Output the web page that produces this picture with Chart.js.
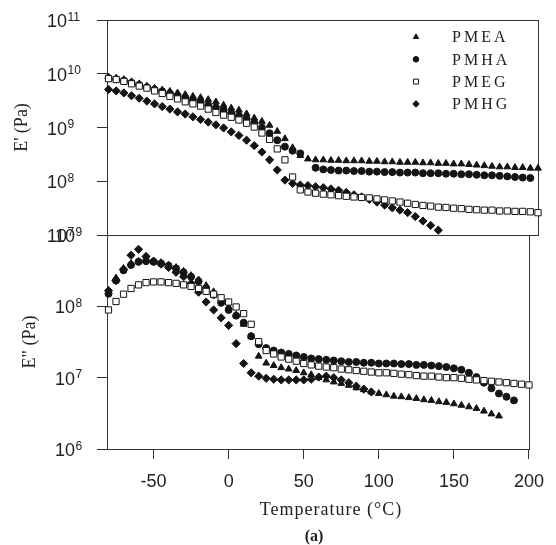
<!DOCTYPE html>
<html>
<head>
<meta charset="utf-8">
<script src="https://cdn.jsdelivr.net/npm/chart.js@4/dist/chart.umd.min.js"></script>
<style>
    html, body { margin: 0; padding: 0; background: #fff; }
    #wrap { position: relative; width: 556px; height: 545px; }
    #wrap canvas { position: absolute; left: 0; top: 0; }
</style>
</head>
<body>
<div id="wrap">
    <canvas id="lower-chart" width="556" height="545"></canvas>
    <canvas id="upper-chart" width="556" height="545"></canvas>
</div>
<script>
// Temperature (°C) of each reading
const temps = [-80, -75, -70, -65, -60, -55, -50, -45, -40, -35,
               -30, -25, -20, -15, -10, -5, 0, 5, 10, 15,
               20, 25, 30, 35, 40, 45, 50, 55, 60, 65,
               70, 75, 80, 85, 90, 95, 100, 105, 110, 115,
               120, 125, 130, 135, 140, 145, 150, 155, 160, 165,
               170, 175, 180, 185, 190, 195, 200];

// Storage modulus E' (Pa)
const pmeaStorage = [8.7e9, 8.3e9, 7.8e9, 7.1e9, 6.5e9, 5.9e9, 5.4e9, 5.0e9, 4.7e9, 4.4e9,
                     4.1e9, 3.8e9, 3.6e9, 3.3e9, 3.0e9, 2.6e9, 2.3e9, 2.1e9, 1.8e9, 1.5e9,
                     1.3e9, 1.1e9, 8.5e8, 6.2e8, 4.2e8, 3.0e8, 2.6e8, 2.5e8, 2.5e8, 2.45e8,
                     2.45e8, 2.4e8, 2.4e8, 2.4e8, 2.35e8, 2.35e8, 2.3e8, 2.3e8, 2.25e8, 2.25e8,
                     2.25e8, 2.2e8, 2.2e8, 2.15e8, 2.15e8, 2.1e8, 2.1e8, 2.05e8, 2.0e8, 1.95e8,
                     1.9e8, 1.85e8, 1.85e8, 1.8e8, 1.8e8, 1.75e8, 1.75e8];
const pmhaStorage = [8.3e9, 7.9e9, 7.4e9, 6.8e9, 6.2e9, 5.6e9, 5.1e9, 4.7e9, 4.3e9, 3.9e9,
                     3.55e9, 3.2e9, 2.95e9, 2.6e9, 2.35e9, 2.1e9, 1.85e9, 1.65e9, 1.45e9, 1.23e9,
                     1.0e9, 7.8e8, 5.8e8, 4.4e8, 3.7e8, 3.3e8, null, 1.78e8, 1.66e8, 1.62e8,
                     1.58e8, 1.58e8, 1.55e8, 1.55e8, 1.51e8, 1.51e8, 1.48e8, 1.48e8, 1.45e8, 1.45e8,
                     1.45e8, 1.41e8, 1.41e8, 1.41e8, 1.38e8, 1.38e8, 1.35e8, 1.35e8, 1.32e8, 1.29e8,
                     1.29e8, 1.26e8, 1.23e8, 1.2e8, 1.17e8, 1.15e8, null];
const pmegStorage = [8.1e9, 7.8e9, 7.2e9, 6.5e9, 5.9e9, 5.4e9, 4.8e9, 4.3e9, 3.8e9, 3.4e9,
                     3.0e9, 2.75e9, 2.5e9, 2.2e9, 1.9e9, 1.7e9, 1.55e9, 1.38e9, 1.2e9, 1.02e9,
                     7.9e8, 6.0e8, 4.0e8, 2.5e8, 1.2e8, 6.9e7, 6.3e7, 6.0e7, 5.75e7, 5.6e7,
                     5.4e7, 5.25e7, 5.1e7, 5.0e7, 4.9e7, 4.7e7, 4.5e7, 4.3e7, 4.1e7, 3.9e7,
                     3.7e7, 3.55e7, 3.45e7, 3.3e7, 3.25e7, 3.15e7, 3.1e7, 3.0e7, 2.95e7, 2.9e7,
                     2.9e7, 2.8e7, 2.8e7, 2.75e7, 2.75e7, 2.7e7, 2.6e7];
const pmhgStorage = [5.1e9, 4.8e9, 4.4e9, 3.9e9, 3.5e9, 3.1e9, 2.75e9, 2.45e9, 2.2e9, 1.95e9,
                     1.78e9, 1.58e9, 1.41e9, 1.26e9, 1.12e9, 9.8e8, 8.3e8, 7.1e8, 5.8e8, 4.6e8,
                     3.5e8, 2.5e8, 1.62e8, 1.05e8, 9.1e7, 8.5e7, 8.3e7, 7.9e7, 7.6e7, 7.2e7,
                     6.8e7, 6.2e7, 5.6e7, 5.1e7, 4.6e7, 4.1e7, 3.6e7, 3.2e7, 2.9e7, 2.6e7,
                     2.2e7, 1.82e7, 1.51e7, 1.23e7, null, null, null, null, null, null,
                     null, null, null, null, null, null, null];

// Loss modulus E" (Pa)
const pmeaLoss = [1.6e8, 2.5e8, 3.4e8, 4.0e8, 4.3e8, 4.4e8, 4.3e8, 4.1e8, 3.8e8, 3.5e8,
                  3.1e8, 2.7e8, 2.35e8, 1.95e8, 1.6e8, 1.26e8, 9.8e7, 7.6e7, 5.6e7, 3.8e7,
                  2.0e7, 1.6e7, 1.48e7, 1.38e7, 1.32e7, 1.26e7, 1.17e7, 1.1e7, 1.0e7, 9.3e6,
                  8.7e6, 8.3e6, 7.8e6, 7.2e6, 6.8e6, 6.3e6, 6.0e6, 5.75e6, 5.5e6, 5.4e6,
                  5.25e6, 5.1e6, 4.9e6, 4.8e6, 4.6e6, 4.5e6, 4.3e6, 4.1e6, 3.9e6, 3.7e6,
                  3.4e6, 3.1e6, 2.9e6, null, null, null, null];
const pmhaLoss = [1.5e8, 2.3e8, 3.2e8, 3.8e8, 4.2e8, 4.3e8, 4.2e8, 4.0e8, 3.7e8, 3.4e8,
                  3.0e8, 2.6e8, 2.25e8, 1.8e8, 1.45e8, 1.12e8, 8.9e7, 7.4e7, 5.9e7, 3.8e7,
                  2.95e7, 2.6e7, 2.4e7, 2.25e7, 2.15e7, 2.05e7, 1.95e7, 1.86e7, 1.82e7, 1.78e7,
                  1.74e7, 1.7e7, 1.66e7, 1.66e7, 1.62e7, 1.62e7, 1.58e7, 1.58e7, 1.58e7, 1.55e7,
                  1.55e7, 1.51e7, 1.51e7, 1.48e7, 1.45e7, 1.41e7, 1.35e7, 1.29e7, 1.17e7, 1.02e7,
                  8.5e6, 7.1e6, 6.0e6, 5.4e6, 4.8e6, null, null];
const pmegLoss = [8.9e7, 1.17e8, 1.48e8, 1.78e8, 2.0e8, 2.15e8, 2.2e8, 2.2e8, 2.15e8, 2.1e8,
                  2.0e8, 1.9e8, 1.78e8, 1.62e8, 1.48e8, 1.32e8, 1.15e8, 9.8e7, 7.9e7, 5.6e7,
                  3.2e7, 2.4e7, 2.15e7, 1.95e7, 1.82e7, 1.7e7, 1.58e7, 1.51e7, 1.45e7, 1.41e7,
                  1.38e7, 1.32e7, 1.29e7, 1.26e7, 1.23e7, 1.2e7, 1.17e7, 1.17e7, 1.15e7, 1.12e7,
                  1.1e7, 1.07e7, 1.05e7, 1.05e7, 1.02e7, 1.0e7, 1.0e7, 9.8e6, 9.5e6, 9.3e6,
                  9.1e6, 8.9e6, 8.7e6, 8.5e6, 8.3e6, 8.1e6, 7.9e6];
const pmhgLoss = [1.66e8, 2.3e8, 3.3e8, 5.2e8, 6.3e8, 5.0e8, 4.3e8, 3.9e8, 3.5e8, 3.0e8,
                  2.6e8, 2.1e8, 1.58e8, 1.15e8, 8.9e7, 6.9e7, 5.4e7, 3.0e7, 1.58e7, 1.17e7,
                  1.05e7, 9.8e6, 9.5e6, 9.3e6, 9.3e6, 9.3e6, 9.3e6, 9.5e6, 1.02e7, 1.05e7,
                  1.0e7, 9.3e6, 8.5e6, 7.6e6, 6.9e6, 6.3e6, null, null, null, null,
                  null, null, null, null, null, null, null, null, null, null,
                  null, null, null, null, null, null, null];

const seriesNames = ['PMEA', 'PMHA', 'PMEG', 'PMHG'];
const xTicks = [-50, 0, 50, 100, 150, 200];
const upperTicks = [1e7, 1e8, 1e9, 1e10, 1e11];
const upperExponents = ['7', '8', '9', '10', '11'];
const lowerTicks = [1e6, 1e7, 1e8, 1e9];
const lowerExponents = ['6', '7', '8', '9'];

const INK = '#141414';
const SANS = '"Liberation Sans", Arial, sans-serif';
const SERIF = '"Liberation Serif", "Times New Roman", serif';
const TICK_FONT = { family: SANS, size: 18 };

// marker look for each series, same order as seriesNames
const markers = [
    { pointStyle: 'triangle', radius: 3.9, fill: INK },
    { pointStyle: 'circle', radius: 3.5, fill: INK },
    { pointStyle: 'rect', radius: 4.4, fill: '#fff' },
    { pointStyle: 'rectRot', radius: 4.1, fill: INK }
];
// squares end up on top, like in the scan
const drawOrder = [3, 2, 0, 1];

function toPoints(values) {
    const pts = [];
    values.forEach((v, i) => {
        if (v !== null) pts.push({ x: temps[i], y: v });
    });
    return pts;
}

function buildDatasets(seriesValues) {
    return seriesValues.map((values, i) => ({
        label: seriesNames[i],
        data: toPoints(values),
        pointStyle: markers[i].pointStyle,
        pointRadius: markers[i].radius,
        pointBackgroundColor: markers[i].fill,
        pointBorderColor: INK,
        pointBorderWidth: 1,
        showLine: false,
        order: drawOrder[i],
        clip: false
    }));
}

// box round the plot area
const framePlugin = {
    id: 'frame',
    beforeDatasetsDraw(chart) {
        const { ctx, chartArea: a } = chart;
        ctx.save();
        ctx.strokeStyle = '#333';
        ctx.lineWidth = 1;
        ctx.strokeRect(Math.round(a.left) + 0.5, Math.round(a.top) + 0.5,
                       Math.round(a.right - a.left), Math.round(a.bottom - a.top));
        ctx.restore();
    }
};

// "10" with a raised exponent, placed at each tick of the y scale
function powerLabelPlugin(exponents) {
    return {
        id: 'powerLabels',
        afterDraw(chart) {
            const { ctx } = chart;
            const scale = chart.scales.y;
            ctx.save();
            ctx.fillStyle = '#222';
            ctx.textAlign = 'left';
            ctx.textBaseline = 'alphabetic';
            scale.ticks.forEach((tick, i) => {
                const y = scale.getPixelForValue(tick.value);
                ctx.font = '18px ' + SANS;
                ctx.fillText('10', scale.left, y + 7);
                const w = ctx.measureText('10').width;
                ctx.font = '12px ' + SANS;
                ctx.fillText(exponents[i], scale.left + w + 0.5, y + 0.5);
            });
            ctx.restore();
        }
    };
}

// rotated y title, and the x title + "(a)" on the lower chart
function titlePlugin(yText, yOffset, showX) {
    return {
        id: 'axisTitles',
        afterDraw(chart) {
            const { ctx, chartArea: a } = chart;
            const yScale = chart.scales.y;
            ctx.save();
            ctx.fillStyle = '#222';
            ctx.textAlign = 'center';
            ctx.textBaseline = 'middle';
            ctx.font = '18px ' + SERIF;
            ctx.translate(yScale.left - yOffset, (a.top + a.bottom) / 2);
            ctx.rotate(-Math.PI / 2);
            ctx.fillText(yText, 0, 0);
            ctx.restore();

            if (showX) {
                ctx.save();
                ctx.fillStyle = '#222';
                ctx.textAlign = 'center';
                ctx.textBaseline = 'middle';
                ctx.font = '18px ' + SERIF;
                ctx.letterSpacing = '1px';
                ctx.fillText('Temperature (°C)', (a.left + a.right) / 2 + 13, a.bottom + 61);
                ctx.letterSpacing = '0px';
                ctx.font = 'bold 16px ' + SERIF;
                ctx.fillText('(a)', (a.left + a.right) / 2 - 4, a.bottom + 88);
                ctx.restore();
            }
        }
    };
}

// legend in the upper right corner of the upper panel
const legendPlugin = {
    id: 'cornerLegend',
    afterDraw(chart) {
        const { ctx, chartArea: a } = chart;
        ctx.save();
        ctx.font = '16px ' + SERIF;
        ctx.letterSpacing = '3px';
        ctx.textBaseline = 'middle';
        ctx.textAlign = 'left';
        seriesNames.forEach((name, i) => {
            const y = a.top + 17 + i * 22.3;
            ctx.fillStyle = markers[i].fill;
            ctx.strokeStyle = INK;
            Chart.helpers.drawPoint(ctx, {
                pointStyle: markers[i].pointStyle,
                radius: markers[i].radius * 0.8,
                borderWidth: 1,
                rotation: 0
            }, a.left + 309, y);
            ctx.fillStyle = '#222';
            ctx.fillText(name, a.left + 345, y + 1);
        });
        ctx.restore();
    }
};

function yScaleOptions(min, max, ticks, exponents, width) {
    return {
        type: 'logarithmic',
        min: min,
        max: max,
        afterBuildTicks: scale => { scale.ticks = ticks.map(v => ({ value: v })); },
        afterFit: scale => { scale.width = width; },
        ticks: {
            // the visible labels are drawn by powerLabelPlugin
            callback: (value, index) => '10^' + exponents[index],
            crossAlign: 'far',
            color: 'rgba(0,0,0,0)',
            font: TICK_FONT,
            autoSkip: false
        },
        grid: { drawOnChartArea: false, tickLength: 10, color: '#333' },
        border: { display: false }
    };
}

const commonOptions = {
    responsive: false,
    animation: false,
    events: [],
    plugins: { legend: { display: false }, tooltip: { enabled: false } }
};

// Upper panel: E'
new Chart(document.getElementById('upper-chart'), {
    type: 'scatter',
    data: { datasets: buildDatasets([pmeaStorage, pmhaStorage, pmegStorage, pmhgStorage]) },
    options: {
        ...commonOptions,
        layout: { padding: { left: 47, right: 18, top: 20, bottom: 310 } },
        scales: {
            x: { type: 'linear', min: -81, max: 200, display: false },
            y: yScaleOptions(1e7, 1e11, upperTicks, upperExponents, 60)
        }
    },
    plugins: [framePlugin, powerLabelPlugin(upperExponents), titlePlugin("E' (Pa)", 25, false), legendPlugin]
});

// Lower panel: E"
new Chart(document.getElementById('lower-chart'), {
    type: 'scatter',
    data: { datasets: buildDatasets([pmeaLoss, pmhaLoss, pmegLoss, pmhgLoss]) },
    options: {
        ...commonOptions,
        layout: { padding: { left: 55, right: 18, top: 235, bottom: 0 } },
        scales: {
            x: {
                type: 'linear',
                min: -81,
                max: 200,
                afterBuildTicks: scale => { scale.ticks = xTicks.map(v => ({ value: v })); },
                afterFit: scale => { scale.height = 96; },
                ticks: { color: '#222', font: TICK_FONT, padding: 12, maxRotation: 0, autoSkip: false },
                grid: { drawOnChartArea: false, tickLength: 10, color: '#333' },
                border: { display: false }
            },
            y: yScaleOptions(1e6, 1e9, lowerTicks, lowerExponents, 52)
        }
    },
    plugins: [framePlugin, powerLabelPlugin(lowerExponents), titlePlugin('E" (Pa)', 25, true)]
});
</script>
</body>
</html>
